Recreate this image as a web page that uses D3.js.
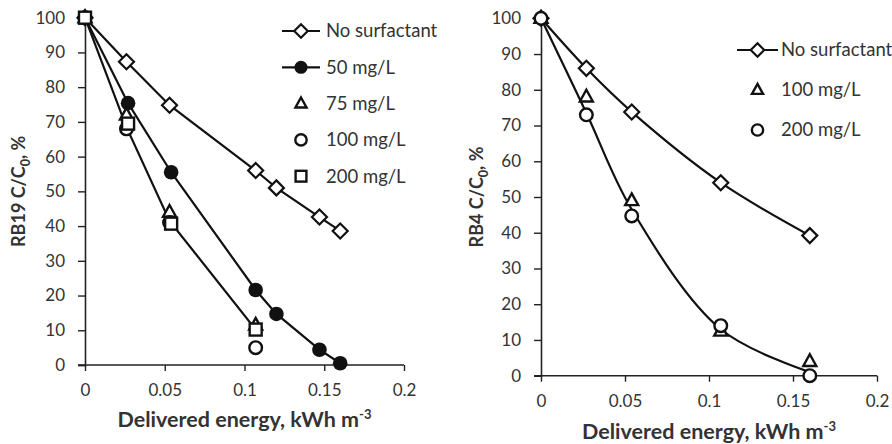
<!DOCTYPE html>
<html><head><meta charset="utf-8">
<script src="https://cdn.jsdelivr.net/npm/d3@7"></script>
<style>
body{margin:0;background:#fff;}
svg{display:block;font-family:Lato, "Open Sans", sans-serif;}
</style></head>
<body><svg id="c" width="892" height="444"></svg>
<script>
// ---- data: left panel (RB19) ----
const xTicks = [0, 0.05, 0.1, 0.15, 0.2];
const xTickLabels = ["0", "0.05", "0.1", "0.15", "0.2"];
const yTicks = [0, 10, 20, 30, 40, 50, 60, 70, 80, 90, 100];

const rb19NoSurfX = [0, 0.026, 0.053, 0.107, 0.12, 0.147, 0.16];
const rb19NoSurfY = [100, 87.3, 74.8, 56, 51, 42.6, 38.6];
const rb19s50X = [0, 0.027, 0.054, 0.107, 0.12, 0.147, 0.16];
const rb19s50Y = [100, 75.4, 55.5, 21.6, 14.7, 4.4, 0.5];
const rb19s75X = [0, 0.026, 0.053, 0.107];
const rb19s75Y = [100, 72, 44, 11.5];
const rb19s100X = [0, 0.026, 0.053, 0.107];
const rb19s100Y = [100, 68, 41, 5];
const rb19s200X = [0, 0.027, 0.054, 0.107];
const rb19s200Y = [100, 69.5, 40.7, 10.2];
const rb19TrendX = [0, 0.026, 0.053, 0.107];
const rb19TrendY = [100, 68.5, 41.5, 10.2];

// ---- data: right panel (RB4) ----
const rb4NoSurfX = [0, 0.027, 0.054, 0.107, 0.16];
const rb4NoSurfY = [100, 86, 73.8, 54, 39.2];
const rb4s100X = [0, 0.027, 0.054, 0.107, 0.16];
const rb4s100Y = [100, 78, 49, 12.5, 4];
const rb4s200X = [0, 0.027, 0.054, 0.107, 0.16];
const rb4s200Y = [100, 73, 44.7, 14, 0];
const rb4TrendX = [0, 0.027, 0.054, 0.107, 0.16];
const rb4TrendY = [100, 73.5, 46.5, 13, 1];

const svg = d3.select("#c");
const zip = (xs, ys) => xs.map((x, i) => [x, ys[i]]);

function marker(g, type, x, y, size) {
  const s = size || 1;
  if (type === "diamond") {
    const r = 7.5 * s;
    g.append("path").attr("d", `M${x},${y - r}L${x + r},${y}L${x},${y + r}L${x - r},${y}Z`)
      .attr("fill", "#fff").attr("stroke", "#111").attr("stroke-width", 2.2);
  } else if (type === "dot") {
    g.append("circle").attr("cx", x).attr("cy", y).attr("r", 7.3 * s).attr("fill", "#111");
  } else if (type === "circle") {
    g.append("circle").attr("cx", x).attr("cy", y).attr("r", 6.3 * s)
      .attr("fill", "#fff").attr("stroke", "#111").attr("stroke-width", 2.4);
  } else if (type === "square") {
    const h = 6 * s;
    g.append("rect").attr("x", x - h).attr("y", y - h).attr("width", 2 * h).attr("height", 2 * h)
      .attr("fill", "#fff").attr("stroke", "#111").attr("stroke-width", 2.4);
  } else if (type === "triangle") {
    const h = 6.5 * s;
    g.append("path").attr("d", `M${x},${y - h * 1.1}L${x + h},${y + h * 0.7}L${x - h},${y + h * 0.7}Z`)
      .attr("fill", "#fff").attr("stroke", "#111").attr("stroke-width", 2.4);
  }
}

function panel(cfg) {
  const x = d3.scaleLinear().domain([0, 0.2]).range([cfg.x0, cfg.x1]);
  const y = d3.scaleLinear().domain([0, 100]).range([cfg.y0, cfg.y1]);
  const g = svg.append("g");

  // axes
  const xAxis = d3.axisBottom(x).tickValues(xTicks).tickFormat((d, i) => xTickLabels[i]).tickSizeOuter(0).tickSize(6).tickPadding(13);
  const gx = g.append("g").attr("transform", `translate(0,${cfg.y0})`).call(xAxis);
  gx.select(".domain").attr("stroke", "#222").attr("stroke-width", 1.6).attr("d", `M${cfg.x0 - 7},0H${cfg.x1}`);
  gx.selectAll(".tick line").attr("stroke", "#222").attr("stroke-width", 1.4);
  gx.selectAll(".tick text").attr("font-size", 17).attr("fill", "#333").attr("font-family", "Lato, sans-serif");

  const yAxis = d3.axisLeft(y).tickValues(yTicks).tickSizeOuter(0).tickSize(7).tickPadding(13);
  const gy = g.append("g").attr("transform", `translate(${cfg.x0},0)`).call(yAxis);
  gy.select(".domain").attr("stroke", "#222").attr("stroke-width", 1.6);
  gy.selectAll(".tick line").attr("stroke", "#222").attr("stroke-width", 1.4);
  gy.selectAll(".tick text").attr("font-size", 17).attr("fill", "#333").attr("font-family", "Lato, sans-serif");

  // titles
  const xt = g.append("text").attr("x", (cfg.x0 + cfg.x1) / 2).attr("y", cfg.xTitleY)
    .attr("text-anchor", "middle").attr("font-weight", "bold").attr("font-size", 21.5).attr("fill", "#333");
  xt.append("tspan").text("Delivered energy, kWh m");
  xt.append("tspan").attr("dy", -8).attr("font-size", 13).text("-3");

  const yt = g.append("text").attr("transform", `translate(${cfg.yTitleX},${(cfg.y0 + cfg.y1) / 2}) rotate(-90)`)
    .attr("text-anchor", "middle").attr("font-weight", "bold").attr("font-size", 18).attr("fill", "#333");
  yt.append("tspan").text(cfg.yLabel + " C/C");
  yt.append("tspan").attr("dy", 5).attr("font-size", 12.5).text("0");
  yt.append("tspan").attr("dy", -5).text(", %");

  const line = d3.line().x(d => x(d[0])).y(d => y(d[1])).curve(cfg.curve);
  cfg.lines.forEach(L => {
    g.append("path").datum(zip(L.xs, L.ys)).attr("d", line).attr("fill", "none")
      .attr("stroke", "#111").attr("stroke-width", 2.2);
  });
  cfg.series.forEach(S => {
    zip(S.xs, S.ys).forEach(d => marker(g, S.type, x(d[0]), y(d[1])));
  });
  // legend
  cfg.series.forEach((S, i) => {
    const ly = cfg.legY + i * cfg.legDy;
    if (S.lined) {
      g.append("line").attr("x1", cfg.legX0).attr("x2", cfg.legX1).attr("y1", ly).attr("y2", ly)
        .attr("stroke", "#111").attr("stroke-width", 2.2);
    }
    marker(g, S.type, (cfg.legX0 + cfg.legX1) / 2, ly, S.type === "triangle" ? 0.85 : 0.9);
    g.append("text").attr("x", cfg.legX1 + cfg.legGap).attr("y", ly).attr("dy", "0.35em")
      .attr("font-size", 18.5).attr("fill", "#333").text(S.name);
  });
}

panel({
  x0: 85, x1: 404, y0: 365, y1: 17.7,
  xTitleY: 427, yTitleX: 25, yLabel: "RB19",
  curve: d3.curveLinear,
  lines: [
    { xs: rb19NoSurfX, ys: rb19NoSurfY },
    { xs: rb19s50X, ys: rb19s50Y },
    { xs: rb19TrendX, ys: rb19TrendY }
  ],
  series: [
    { name: "No surfactant", type: "diamond", xs: rb19NoSurfX, ys: rb19NoSurfY, lined: true },
    { name: "50 mg/L", type: "dot", xs: rb19s50X, ys: rb19s50Y, lined: true },
    { name: "75 mg/L", type: "triangle", xs: rb19s75X, ys: rb19s75Y, lined: false },
    { name: "100 mg/L", type: "circle", xs: rb19s100X, ys: rb19s100Y, lined: false },
    { name: "200 mg/L", type: "square", xs: rb19s200X, ys: rb19s200Y, lined: false }
  ],
  legX0: 282, legX1: 320, legY: 31, legDy: 36.3, legGap: 6
});

panel({
  x0: 541, x1: 877, y0: 375.7, y1: 18.3,
  xTitleY: 439, yTitleX: 483, yLabel: "RB4",
  curve: d3.curveCatmullRom.alpha(0.5),
  lines: [
    { xs: rb4NoSurfX, ys: rb4NoSurfY },
    { xs: rb4TrendX, ys: rb4TrendY }
  ],
  series: [
    { name: "No surfactant", type: "diamond", xs: rb4NoSurfX, ys: rb4NoSurfY, lined: true },
    { name: "100 mg/L", type: "triangle", xs: rb4s100X, ys: rb4s100Y, lined: false },
    { name: "200 mg/L", type: "circle", xs: rb4s200X, ys: rb4s200Y, lined: false }
  ],
  legX0: 737, legX1: 778, legY: 50, legDy: 40, legGap: 3
});
</script></body></html>
